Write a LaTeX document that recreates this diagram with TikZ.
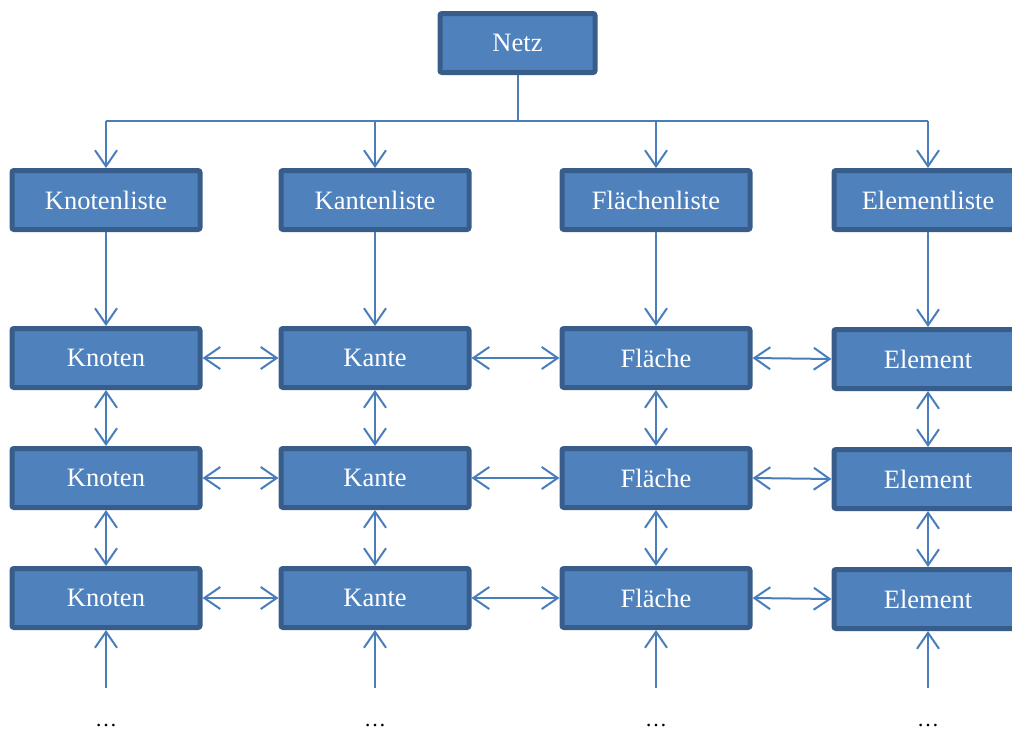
\documentclass[tikz,border=0pt]{standalone}
\usepackage{fontspec}
\setmainfont{Liberation Serif}
\usetikzlibrary{arrows.meta}
\definecolor{boxfill}{HTML}{4F81BD}
\definecolor{boxedge}{HTML}{385D8A}
\definecolor{wire}{HTML}{4A7EBB}
\begin{document}
\begin{tikzpicture}[x=1pt,y=-1pt,
  blk/.style={draw=boxedge,fill=boxfill,line width=5pt,rounded corners=2pt,
    minimum width=188pt,minimum height=59pt,inner sep=0pt,text=white,
    font=\fontsize{26.5}{30}\selectfont},
  topblk/.style={blk,minimum width=155pt},
  link/.style={draw=wire,line width=2pt},
  tip/.style={-{Straight Barb[length=16pt,width=22pt]}},
  both/.style={{Straight Barb[length=16pt,width=22pt]}-{Straight Barb[length=16pt,width=22pt]}},
  dots/.style={font=\fontsize{22}{26}\selectfont,inner sep=0pt,
    text height=3pt,text depth=0pt,anchor=base}]
\useasboundingbox (0,0) rectangle (1012,729);
\clip (0,0) rectangle (1012,729);

% root
\node[topblk] (netz) at (517.5,43) {Netz};

% list row
\node[blk] (l1) at (106,200) {Knotenliste};
\node[blk] (l2) at (375,200) {Kantenliste};
\node[blk] (l3) at (656,200) {Flächenliste};
\node[blk] (l4) at (928,200) {Elementliste};

% record rows
\foreach \r/\y in {1/358,2/478,3/598}{
  \node[blk] (k\r) at (106,\y) {Knoten};
  \node[blk] (a\r) at (375,\y) {Kante};
  \node[blk] (f\r) at (656,\y) {Fläche};
  \node[blk] (e\r) at (928,\y+1) {Element};
}

% branch from the root
\coordinate (bus) at (517.5,121);
\draw[link] (netz.south) -- (bus);
\draw[link] (106,121) -- (928,121);
\foreach \n in {l1,l2,l3,l4}
  \draw[link,tip] (\n.north |- bus) -- (\n.north);

% lists to first records
\draw[link,tip] (l1) -- (k1);
\draw[link,tip] (l2) -- (a1);
\draw[link,tip] (l3) -- (f1);
\draw[link,tip] (l4) -- (e1);

% neighbours within each row
\foreach \r in {1,2,3}{
  \draw[link,both] (k\r.east) -- (a\r.west);
  \draw[link,both] (a\r.east) -- (f\r.west);
  \draw[link,both] (f\r.east) -- (e\r.west);
}

% chains within each column
\foreach \c in {k,a,f,e}{
  \draw[link,both] (\c1.south) -- (\c2.north);
  \draw[link,both] (\c2.south) -- (\c3.north);
}

% continuation below
\foreach \c/\x in {k/106,a/375,f/656,e/928}{
  \coordinate (\c end) at (\x,688);
  \draw[link,tip] (\c end) -- (\c3.south);
  \node[dots] (\c dots) at (\x,726) {\ldots};
}
\end{tikzpicture}
\end{document}
